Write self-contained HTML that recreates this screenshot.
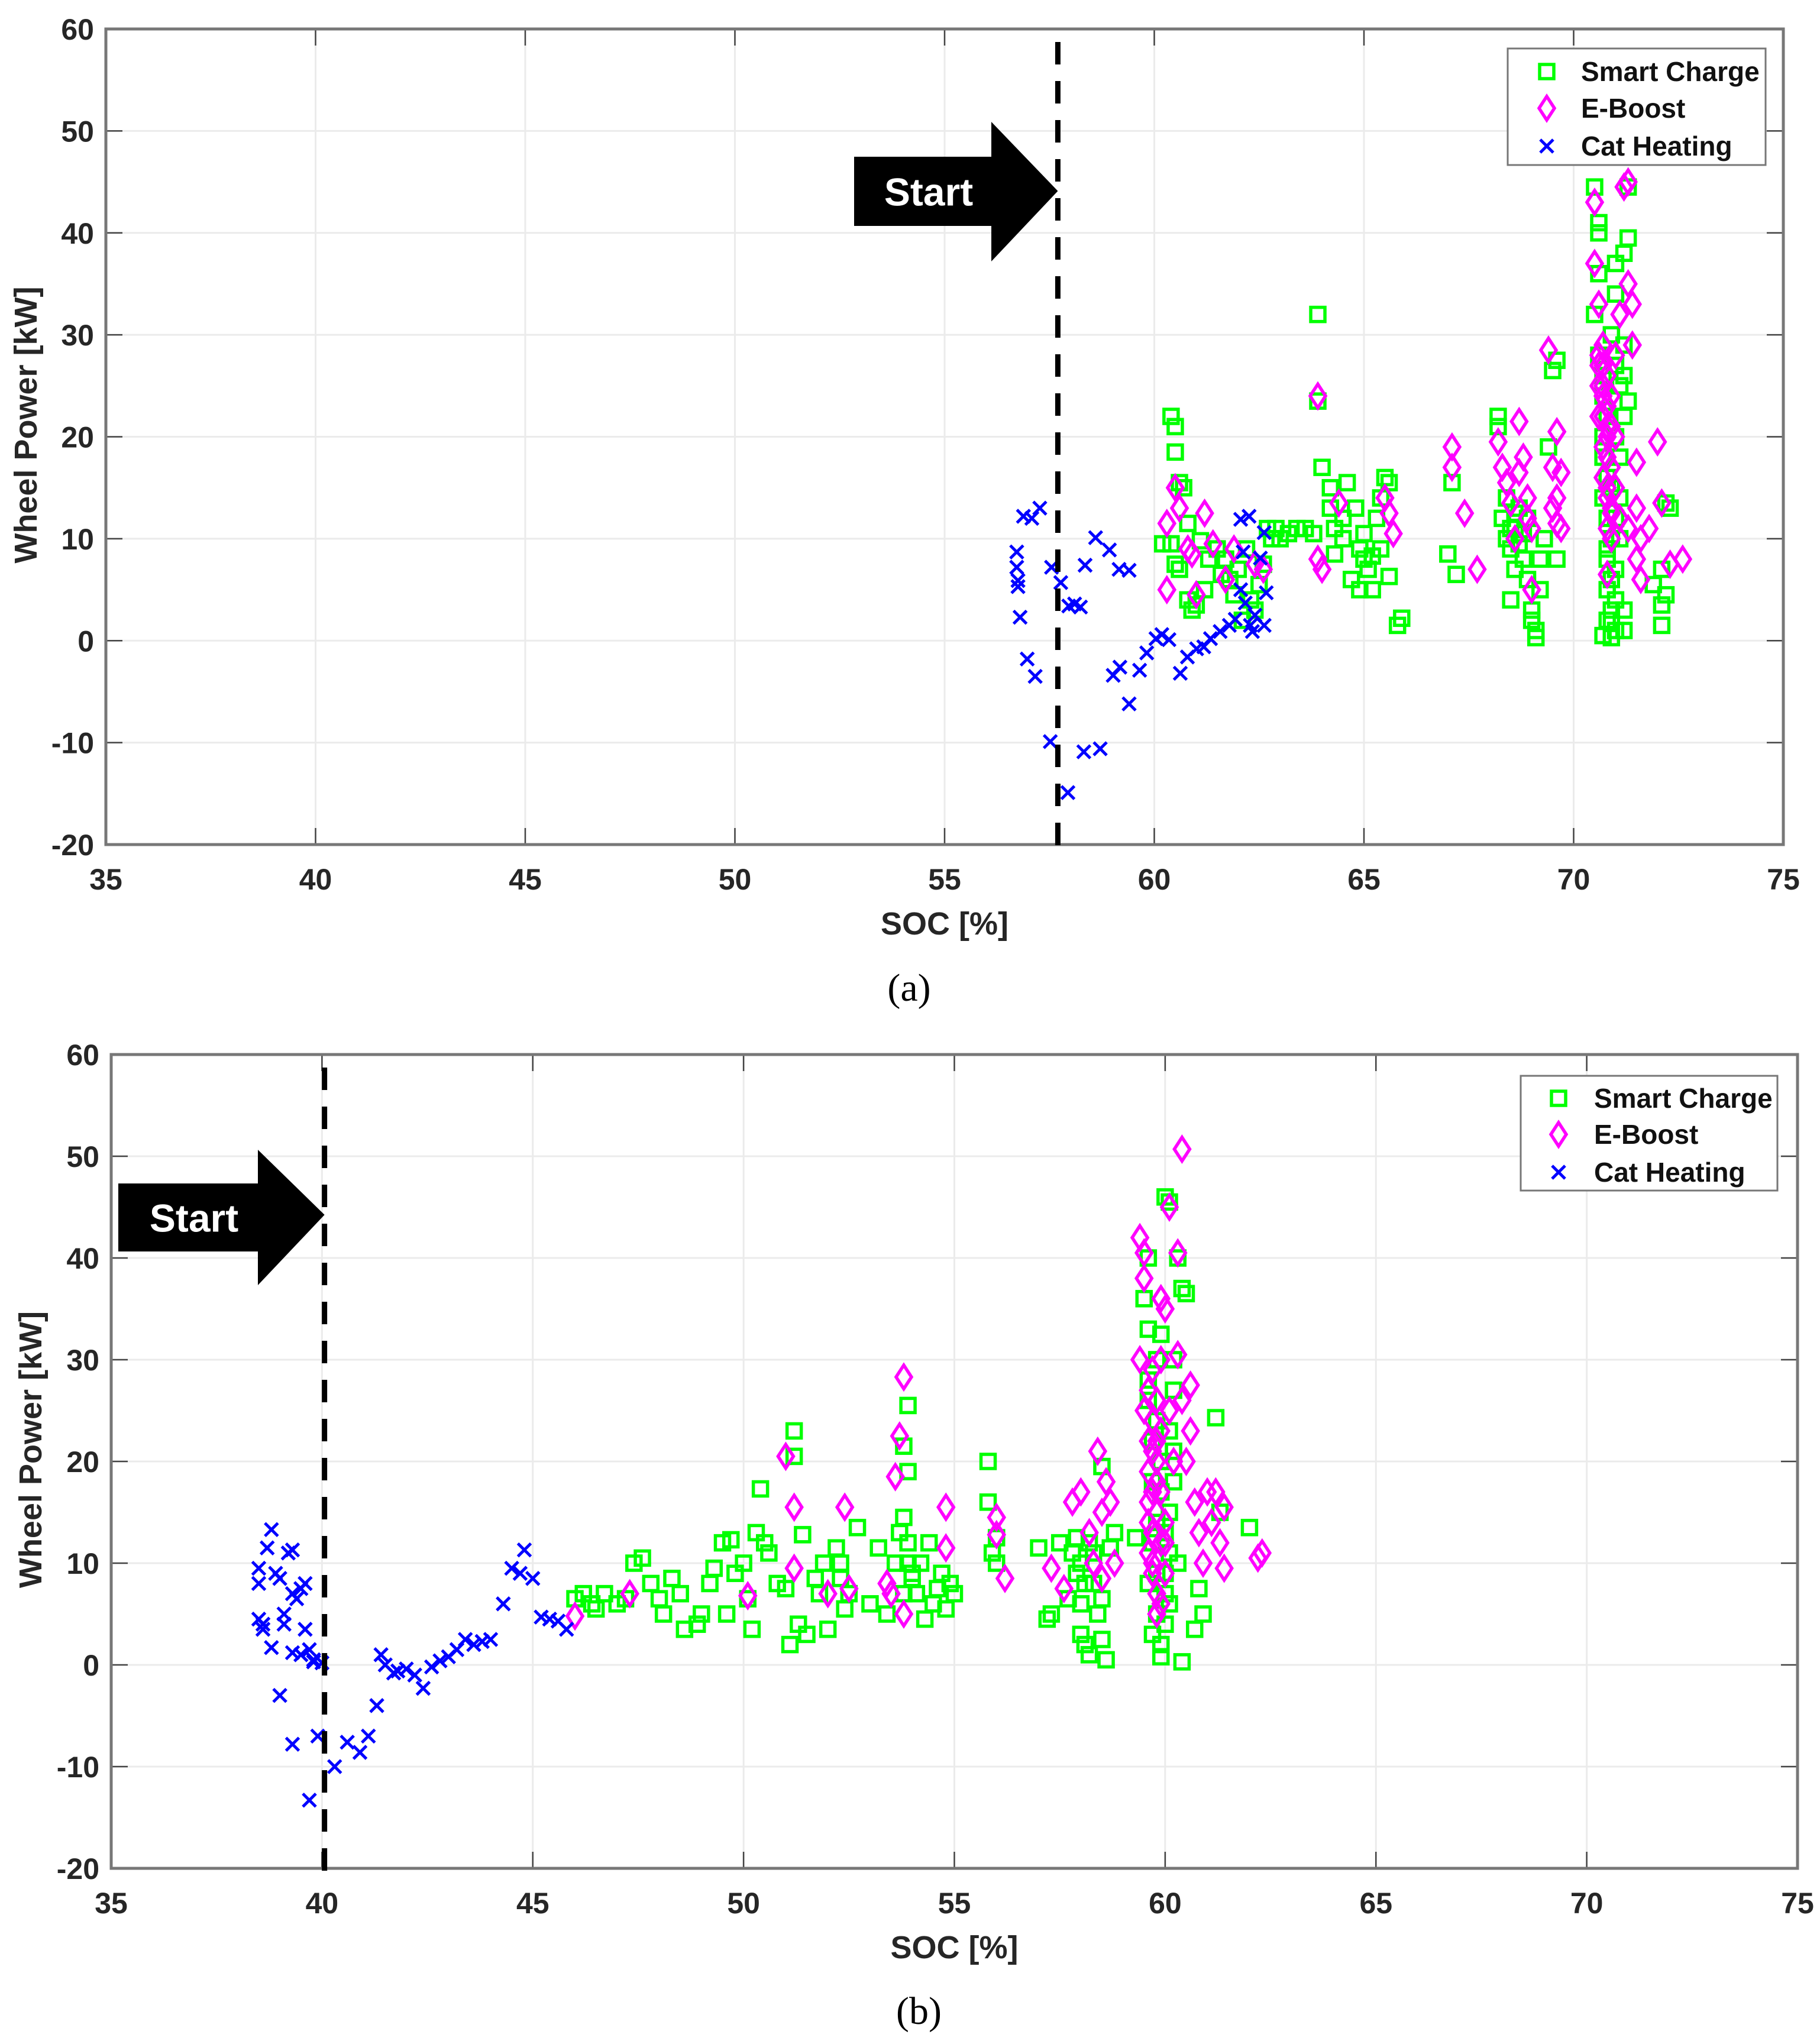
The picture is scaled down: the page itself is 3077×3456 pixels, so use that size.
<!DOCTYPE html>
<html><head><meta charset="utf-8"><style>
html,body{margin:0;padding:0;background:#fff;}
svg{display:block;}
text{font-family:"Liberation Sans",Arial,sans-serif;}
</style></head><body>
<svg id="fig" width="3077" height="3456" viewBox="0 0 3077 3456" xmlns="http://www.w3.org/2000/svg">
<rect width="3077" height="3456" fill="#fff"/>
</svg>
<script>
// ---------- Shared axis data ----------
const xTicks = [35,40,45,50,55,60,65,70,75];
const yTicks = [-20,-10,0,10,20,30,40,50,60];

// ---------- Chart (a) data ----------
const aCatSOC = [56.72,56.72,56.75,56.75,56.80,56.88,57.08,57.27,56.97,57.16,57.52,57.55,57.77,57.96,58.10,58.24,58.32,58.71,57.94,58.35,58.60,58.93,59.16,59.40,59.40,59.02,59.18,59.65,59.82,60.04,60.18,60.35,60.62,60.79,61.01,61.18,61.34,61.57,61.79,61.93,62.06,62.12,62.06,62.26,62.17,62.29,62.40,62.53,62.62,62.67,62.62,62.34];
const aCatKW  = [8.7,7.2,5.9,5.3,2.3,12.2,12.0,13.0,-1.8,-3.5,-9.9,7.2,5.7,3.4,3.6,3.3,-10.9,-10.6,-14.9,7.4,10.1,8.9,7.0,6.9,-6.2,-3.4,-2.6,-2.9,-1.2,0.2,0.6,0.1,-3.2,-1.6,-0.8,-0.6,0.2,0.9,1.5,2.1,5.0,8.7,11.9,12.2,3.7,1.5,2.5,8.1,10.6,4.7,1.5,0.9];
const aSmartSOC = [60.4,60.5,60.5,60.6,60.7,60.2,60.4,60.5,60.6,60.8,60.8,60.9,61.0,61.2,61.3,61.5,61.7,61.8,62.0,62.2,62.3,62.4,62.5,62.6,62.8,62.9,63.0,63.2,63.4,63.6,63.8,62.1,61.6,61.1,61.9,62.7,
 63.9,63.9,64.0,64.2,64.2,64.3,64.5,64.6,64.8,64.9,65.0,65.1,65.2,64.7,64.9,65.3,65.4,65.5,65.6,65.6,65.4,65.8,65.9,64.3,64.5,65.0,65.2,
 67.0,67.1,67.2,
 68.2,68.2,68.3,68.4,68.5,68.5,68.6,68.7,68.8,68.9,69.0,69.0,69.1,69.1,69.2,69.3,69.4,69.5,69.6,69.6,68.6,68.9,69.2,68.4,68.5,68.7,68.8,68.6,
 70.5,70.6,70.6,70.5,70.6,70.7,70.7,70.8,70.8,70.8,70.8,70.9,70.9,71.0,71.0,71.0,71.1,71.1,71.1,71.2,71.2,71.2,71.3,71.3,71.0,70.9,71.0,70.7,71.2,71.2,71.3,71.0,70.6,
 70.7,70.7,70.8,70.8,70.9,70.9,71.0,71.0,70.8,70.9,71.1,71.2,70.7,70.9,
 71.9,72.1,72.1,72.1,72.2,72.3,72.2];
const aSmartKW = [22,21,18.5,15.5,15,9.5,9.5,7.5,7,11.5,4,3,3.5,5,8,9,8,6,7,9,4,3,5.5,7.5,10,11,10,10.5,11,11,10.5,2,6.5,9.8,4.5,11,
 32,23.5,17,15,13,11,10,15.5,13,9,8,7,5,6,5,12,14,16,15.5,6.3,9,1.5,2.2,8.5,12,10.5,8.3,
 8.5,15.5,6.5,
 22,21,12,10,9,4,11,13,8,6,3,2,1,0.3,5,10,19,26.5,27.5,8,7,12,8,14,11,9.5,10.5,12.5,
 44.5,40,36,32,28,24,20,16,12,8,5,2,0.3,1,4,7,10,14,18,22,26,38,39.5,44.5,34,30,27,0.5,3,1,23.5,37,41,
 26,18,22,9,6,3,12,20,2,15,25,29,14,10,
 5.5,7,3.5,1.5,4.5,13,13.5];
const aBoostSOC = [60.3,60.3,60.5,60.6,60.8,60.9,61.0,61.2,61.4,61.7,61.9,62.4,62.6,63.9,63.9,64.0,64.4,65.5,65.6,65.7,67.1,67.1,67.4,67.7,68.2,68.3,68.4,68.5,68.6,68.7,68.8,68.9,69.0,69.0,69.4,69.5,69.6,69.6,69.6,69.7,70.5,70.5,70.6,70.6,70.7,70.7,70.8,70.8,70.9,70.9,70.8,71.0,71.0,71.1,71.2,71.3,71.3,71.4,71.4,71.5,71.5,71.6,71.5,71.3,72.0,72.1,72.3,72.6,71.8,71.6,
 70.6,70.7,70.7,70.8,70.8,70.9,70.6,70.7,70.8,70.9,70.7,70.8,70.9,70.6,71.0,71.1,70.8,70.9,70.7,70.8,68.7,68.9,69.5,69.7];
const aBoostKW  = [11.5,5,15,13,9,8.5,4.5,12.5,9.5,6,9,7.5,7,24,8,7,13.5,14,12.5,10.5,19,17,12.5,7,19.5,17,15.5,13.5,10,21.5,18,14,11,5,28.5,17,14,11.5,20.5,16.5,43,37,33,27,25,22,18,15,12.5,10,6.5,20,28,32,44.5,45,35,33,29,17.5,13,10,8,11,19.5,13.5,7.5,8,11,6,
 28,27,24,26,23,21,25,19,21,17,16,14,13,22,15,12,11,24,29,20,16.5,12,13,11];
const aStart = 57.7;

// ---------- Chart (b) data ----------
const bCatSOC = [38.5,38.5,38.5,38.6,38.6,38.7,38.8,38.8,38.9,39.0,39.0,39.1,39.1,39.2,39.3,39.3,39.3,39.3,39.4,39.5,39.5,39.6,39.6,39.7,39.7,39.8,39.8,39.9,40.0,40.3,40.6,40.9,41.1,41.3,41.4,41.5,41.7,41.8,42.0,42.2,42.4,42.6,42.8,43.0,43.2,43.4,43.6,43.8,44.0,44.3,44.5,44.7,44.8,45.0,45.2,45.4,45.6,45.8];
const bCatKW  = [9.5,8,4.5,3.5,4,11.5,13.3,1.7,9,8.5,-3,5,4,11,11.3,7,-7.8,1.2,6.5,7.5,1,8,3.5,-13.3,1.5,0.5,0.3,-7,0.2,-10,-7.6,-8.6,-7,-4,1,0,-0.8,-0.6,-0.4,-1,-2.3,-0.2,0.4,0.8,1.5,2.5,2,2.3,2.5,6,9.5,9,11.3,8.5,4.7,4.5,4.3,3.5];
const bSmartSOC = [46,46.2,46.4,46.5,46.7,47,47.2,47.4,47.6,47.8,48,48.1,48.3,48.5,48.6,48.9,49,49.2,49.3,49.5,49.6,49.7,49.8,50,50.1,50.2,50.3,50.4,50.5,50.6,50.8,51,51.1,51.2,51.2,51.3,51.4,51.5,51.7,51.8,51.9,52,52.2,52.3,52.4,52.5,52.7,52.3,53,53.2,53.4,53.6,53.7,53.8,53.8,53.9,53.9,53.9,54,54.1,54.2,54.3,54.5,54.6,54.7,54.8,54.9,55,54.4,55.8,55.8,55.9,56,56,57,57.2,57.3,57.5,57.7,57.8,57.9,58,58,58.1,58.2,58.3,58.4,58.5,58.5,58.6,58.7,58.8,58.5,59.3,59.5,59.6,59.6,59.7,59.7,59.8,59.8,59.8,59.9,59.9,60,60,60.1,60.1,60.2,60.2,60.3,60,60.1,60.4,60.5,60.4,60.7,60.8,60.9,61.2,61.3,62,59.6,60.2,59.9,
 59.6,59.7,59.8,59.9,60.0,60.1,59.7,59.8,59.9,60.0,60.1,59.6,60.2,60.3,58.1,58.2,57.9,58.0,58.3,53.8,54.0,53.9];
const bSmartKW  = [6.5,7,6,5.5,7,6,6.5,10,10.5,8,6.5,5,8.5,7,3.5,4,5,8,9.5,12,5,12.3,9,10,6.5,3.5,13,17.3,12,11,8,7.5,2,23,20.5,4,12.8,3,8.5,7,10,3.5,11.5,10,5.5,7,13.5,8.5,6,11.5,5,10,13,14.5,21.5,25.5,19,12,8.5,7,10,4.5,6,7.5,9,5.5,8,7,12,20,16,11,10,12.5,11.5,4.5,5,12,6.5,11,12.5,10,3,2,1,8,5,6.5,2.5,0.5,11.5,13,19.5,12.5,36,33,26,22,18,14,9,5,2,0.8,4,7,11,15,21,30,40,46,45.5,37,36.5,0.3,3.5,7.5,5,24.3,15,13.5,40,27,32.5,
 28,12,24,17,9,6,3,30,20,13,23,8,18,10,8,12,9,6,11,7,9,10];
const bBoostSOC = [46,47.3,50.1,51,51.2,51.2,52,52.4,52.5,53.4,53.5,53.6,53.7,53.8,53.8,54.8,54.8,56,56,56.2,57.3,57.6,57.8,58,58.2,58.3,58.4,58.5,58.6,58.7,58.8,58.5,59.4,59.5,59.5,59.4,59.5,59.6,59.6,59.6,59.7,59.7,59.8,59.8,59.9,59.9,60,60.1,60.1,60.2,60.3,60.3,60.4,60.4,60.5,60.6,60.6,60.7,60.8,60.9,61,61.1,61.2,61.3,61.4,61.4,62.2,62.3,59.9,60,
 59.6,59.7,59.7,59.8,59.8,59.9,59.6,59.7,59.8,59.9,59.6,59.7,59.8,60.0,59.7,59.8,59.9,60.0];
const bBoostKW  = [4.8,7,6.8,20.5,15.5,9.5,7,15.5,7.5,8,7,18.5,22.5,28.3,5,15.5,11.5,14.5,12.8,8.5,9.5,7.5,16,17,13,10,21,15,18,16,10,8.5,42,40.5,38,30,25,22,19,16,13,10,7,5,30,36,35,45,25,20,40.5,30.5,50.7,26,20,27.5,23,16,13,10,17,14,17,12,9.5,15.5,10.5,11,6,9,
 27,24,21,18,15,12,14,17,20,23,11,9,26,14,29,22,17,12];
const bStart = 40.06;

const NS = "http://www.w3.org/2000/svg";
const svg = document.getElementById("fig");
function mk(tag, attrs, parent){
  const e = document.createElementNS(NS, tag);
  for (const k in attrs) e.setAttribute(k, attrs[k]);
  (parent||svg).appendChild(e);
  return e;
}

function drawChart(c){
  const g = mk("g", {});
  
  
  const sx = v => c.x0 + (v - 35) / 40 * (c.x1 - c.x0);
  const sy = v => c.y1 - (v + 20) / 80 * (c.y1 - c.y0);
  xTicks.forEach(t => {
    const l = mk("line", {x1:sx(t), x2:sx(t), y1:c.y0, y2:c.y1, stroke:"#ebebeb", "stroke-width":3}, g);
    
    
  });
  yTicks.forEach(t => {
    const l = mk("line", {x1:c.x0, x2:c.x1, y1:sy(t), y2:sy(t), stroke:"#ebebeb", "stroke-width":3}, g);
    
    
  });
  xTicks.forEach(t => {
    mk("line", {x1:sx(t), x2:sx(t), y1:c.y1, y2:c.y1-28, stroke:"#444", "stroke-width":2.5}, g);
    mk("line", {x1:sx(t), x2:sx(t), y1:c.y0, y2:c.y0+28, stroke:"#444", "stroke-width":2.5}, g);
    const tx = mk("text", {x:sx(t), y:c.y1+76, "text-anchor":"middle", "font-size":50, "font-weight":"bold", fill:"#262626"}, g);
    tx.textContent = t;
    
    
  });
  yTicks.forEach(t => {
    mk("line", {x1:c.x0, x2:c.x0+28, y1:sy(t), y2:sy(t), stroke:"#444", "stroke-width":2.5}, g);
    mk("line", {x1:c.x1, x2:c.x1-28, y1:sy(t), y2:sy(t), stroke:"#444", "stroke-width":2.5}, g);
    const tx = mk("text", {x:c.x0-20, y:sy(t)+18, "text-anchor":"end", "font-size":50, "font-weight":"bold", fill:"#262626"}, g);
    tx.textContent = t;
    
    
  });
  const box = mk("rect", {x:c.x0, y:c.y0, width:c.x1-c.x0, height:c.y1-c.y0, fill:"none", stroke:"#777", "stroke-width":5}, g);
  
  
  const xt = mk("text", {x:(c.x0+c.x1)/2, y:c.y1+152, "text-anchor":"middle", "font-size":54, "font-weight":"bold", fill:"#262626"}, g);
  xt.textContent = "SOC [%]";
  
  
  const yt = mk("text", {x:0, y:0, "text-anchor":"middle", "font-size":54, "font-weight":"bold", fill:"#262626", transform:`translate(${c.ytx},${(c.y0+c.y1)/2-20}) rotate(-90)`}, g);
  yt.textContent = "Wheel Power [kW]";
  
  

  const sq = (x,y,p) => mk("rect", {x:x-12, y:y-12, width:24, height:24, fill:"none", stroke:"#00ff00", "stroke-width":5.5}, p);
  const di = (x,y,p) => mk("path", {d:`M${x} ${y-20} L${x+13} ${y} L${x} ${y+20} L${x-13} ${y} Z`, fill:"none", stroke:"#ff00ff", "stroke-width":5.5}, p);
  const cr = (x,y,p) => mk("path", {d:`M${x-11} ${y-11} L${x+11} ${y+11} M${x+11} ${y-11} L${x-11} ${y+11}`, fill:"none", stroke:"#0000ff", "stroke-width":5}, p);

  const gs = mk("g", {}, g);
  
  
  c.smartSOC.forEach((v,i) => {
    const m = sq(sx(v), sy(c.smartKW[i]), gs);
    
    
  });
  const gb = mk("g", {}, g);
  
  
  c.boostSOC.forEach((v,i) => {
    const m = di(sx(v), sy(c.boostKW[i]), gb);
    
    
  });
  const gc = mk("g", {}, g);
  
  
  c.catSOC.forEach((v,i) => {
    const m = cr(sx(v), sy(c.catKW[i]), gc);
    
    
  });

  const xs = sx(c.start);
  const dl = mk("line", {x1:xs, x2:xs, y1:c.y0+22, y2:c.y1+8, stroke:"#000", "stroke-width":9, "stroke-dasharray":"38 28"}, g);
  
  
  const a = c.arrow;
  const ar = mk("path", {d:`M${a.l} ${a.rt} L${a.hx} ${a.rt} L${a.hx} ${a.ht} L${xs} ${a.tip} L${a.hx} ${a.hb} L${a.hx} ${a.rb} L${a.l} ${a.rb} Z`, fill:"#000"}, g);
  
  
  const st = mk("text", {x:(a.l+a.hx)/2+10, y:(a.rt+a.rb)/2+24, "text-anchor":"middle", "font-size":66, "font-weight":"bold", fill:"#fff"}, g);
  st.textContent = "Start";
  
  

  const L = c.legend;
  const lg = mk("g", {}, g);
  
  
  mk("rect", {x:L.x0, y:L.y0, width:L.x1-L.x0, height:L.y1-L.y0, fill:"#fff", stroke:"#777", "stroke-width":3}, lg);
  const names = ["Smart Charge","E-Boost","Cat Heating"];
  const fns = [sq, di, cr];
  names.forEach((n,i) => {
    const y = L.rows[i];
    const e = mk("g", {}, lg);
    
    
    fns[i](L.mx, y, e);
    const t = mk("text", {x:L.tx, y:y+16, "font-size":46, "font-weight":"bold", fill:"#111"}, e);
    t.textContent = n;
  });
  const cap = mk("text", {x:(c.x0+c.x1)/2 - 60, y:c.capY, "text-anchor":"middle", "font-size":66, fill:"#000"}, g);
  cap.setAttribute("style","font-family:'Liberation Serif',serif");
  cap.textContent = c.caption;
  
  
}

drawChart({id:"a", x0:179, x1:3015, y0:49, y1:1428, ytx:62,
  smartSOC:aSmartSOC, smartKW:aSmartKW, boostSOC:aBoostSOC, boostKW:aBoostKW, catSOC:aCatSOC, catKW:aCatKW, start:aStart,
  arrow:{l:1444, rt:265, rb:382, hx:1676, ht:206, hb:442, tip:323},
  legend:{x0:2549, y0:82, x1:2985, y1:279, mx:2615, tx:2673, rows:[121,183,247]},
  caption:"(a)", capY:1692});
drawChart({id:"b", x0:188, x1:3039, y0:1783, y1:3159, ytx:70,
  smartSOC:bSmartSOC, smartKW:bSmartKW, boostSOC:bBoostSOC, boostKW:bBoostKW, catSOC:bCatSOC, catKW:bCatKW, start:bStart,
  arrow:{l:200, rt:2001, rb:2116, hx:436, ht:1944, hb:2173, tip:2054},
  legend:{x0:2571, y0:1819, x1:3005, y1:2013, mx:2635, tx:2695, rows:[1857,1918,1982]},
  caption:"(b)", capY:3422});
</script>
</body></html>
